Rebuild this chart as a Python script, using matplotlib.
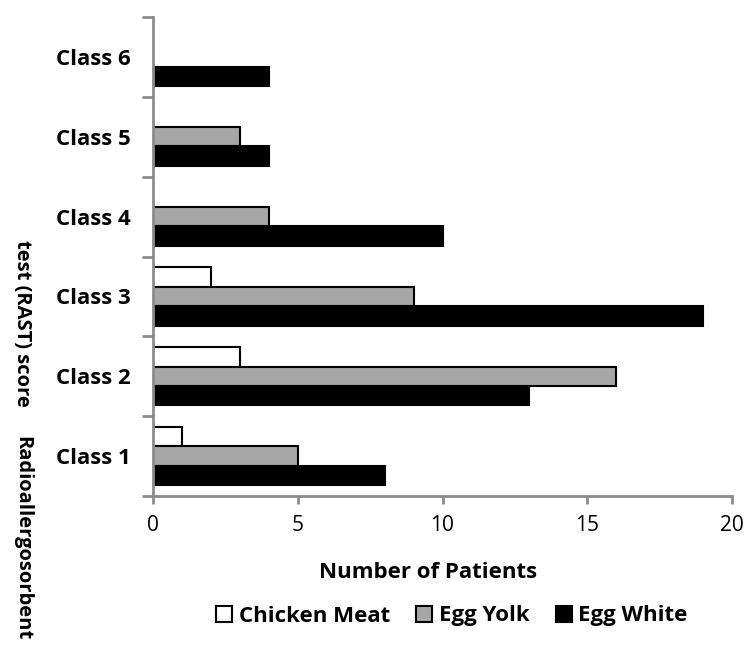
import matplotlib
matplotlib.use("Agg")
import matplotlib.pyplot as plt
import numpy as np

categories = ["Class 1", "Class 2", "Class 3", "Class 4", "Class 5", "Class 6"]
chicken_meat = [1, 3, 2, 0, 0, 0]
egg_yolk = [5, 16, 9, 4, 3, 0]
egg_white = [8, 13, 19, 10, 4, 4]
series_names = ["Chicken Meat", "Egg Yolk", "Egg White"]
xticks = [0, 5, 10, 15, 20]

plt.rcParams['font.family'] = ['Open Sans', 'DejaVu Sans']

fig = plt.figure(figsize=(7.45, 6.53), dpi=100)
ax = fig.add_axes([153/745, 1-496/653, (732-153)/745, (496-17)/653])

y = np.arange(len(categories))
h = 0.243
ax.barh(y + h, chicken_meat, height=h, color="white", edgecolor="black", linewidth=1.5, label=series_names[0])
ax.barh(y, egg_yolk, height=h, color="#A6A6A6", edgecolor="black", linewidth=1.5, label=series_names[1])
ax.barh(y - h, egg_white, height=h, color="black", edgecolor="black", linewidth=1.5, label=series_names[2])

ax.set_xlim(0, 20)
ax.set_ylim(-0.5, len(categories) - 0.5)
ax.set_xticks(xticks)
ax.set_xticklabels([str(v) for v in xticks], fontsize=15)
ax.set_yticks(y)
ax.set_yticklabels(categories, fontsize=16, fontweight='bold')
ax.set_yticks(np.arange(-0.5, len(categories), 1), minor=True)
ax.tick_params(axis='y', which='major', length=0, pad=16)
ax.tick_params(axis='y', which='minor', length=8, width=2, color='#8C8C8C')
ax.tick_params(axis='x', length=6, width=2, color='#8C8C8C', pad=8)

for s in ['top', 'right']:
    ax.spines[s].set_visible(False)
for s in ['left', 'bottom']:
    ax.spines[s].set_color('#8C8C8C')
    ax.spines[s].set_linewidth(2)

fig.text(428/745, 1-572/653, "Number of Patients", ha='center', va='center',
         fontsize=16, fontweight='bold')

fig.text(22/745, 1-240/653, "test (RAST) score", rotation=270, ha='center', va='top',
         fontsize=14.5, fontweight='bold')
fig.text(22/745, 1-436/653, "Radioallergosorbent", rotation=270, ha='center', va='top',
         fontsize=14.5, fontweight='bold')

fig.legend(loc='center', bbox_to_anchor=(452/745, 1-616/653), ncol=3, frameon=False,
           prop={'weight': 'bold', 'size': 16}, handlelength=0.7, handleheight=0.7,
           handletextpad=0.3, columnspacing=1.2, borderaxespad=0)

fig.savefig("out.png", dpi=100)
